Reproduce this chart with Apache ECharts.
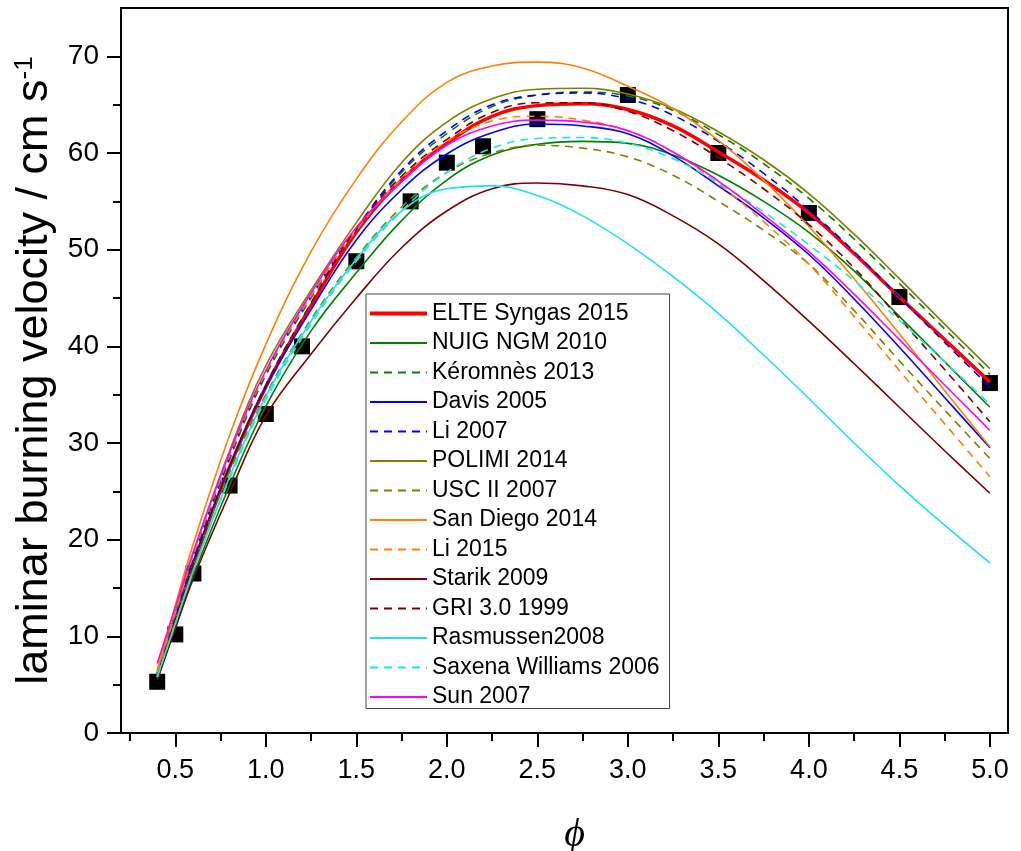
<!DOCTYPE html>
<html>
<head>
    <meta charset="UTF-8">
    <title>laminar burning velocity</title>
    <script src="https://cdn.jsdelivr.net/npm/echarts@6/dist/echarts.min.js"></script>
    <style>
        body, html {
            margin: 0;
            padding: 0;
            background: #fff;
        }
        #main {
            width: 1021px;
            height: 851px;
        }
    </style>
</head>
<body>
<div id="main"></div>
<script>
    // equivalence ratio grid of the model curves
    var phi = [0.4, 0.5, 0.6, 0.8, 1.0, 1.25, 1.5, 1.75, 2.0, 2.25, 2.5, 2.75, 3.0, 3.25, 3.5, 3.75, 4.0, 4.25, 4.5, 4.75, 5.0];

    var elte      = [5.7, 11.6, 17.4, 27.5, 35.8, 44.2, 51.8, 57.2, 61.0, 63.8, 64.9, 65.1, 64.5, 62.8, 60.1, 57.2, 53.8, 49.6, 45.1, 40.7, 36.3];
    var nuig      = [5.5, 10.9, 16.3, 25.6, 33.8, 41.6, 47.6, 53.0, 57.2, 59.8, 60.9, 61.2, 61.0, 59.8, 57.7, 55.0, 51.8, 47.8, 43.1, 38.4, 33.7];
    var keromnes  = [6.0, 12.0, 18.0, 28.3, 37.0, 45.0, 52.0, 58.0, 62.0, 64.8, 66.0, 66.3, 65.9, 64.4, 61.9, 58.9, 55.3, 51.1, 46.5, 41.8, 37.1];
    var davis     = [6.2, 12.1, 17.8, 27.6, 35.8, 43.8, 51.0, 56.2, 59.9, 62.1, 63.0, 62.8, 62.0, 59.7, 56.6, 53.3, 49.5, 44.9, 39.9, 34.7, 29.5];
    var li2007    = [6.1, 12.2, 18.2, 28.6, 37.3, 45.2, 52.2, 58.2, 62.3, 65.0, 66.0, 66.2, 65.6, 63.9, 61.2, 57.9, 54.1, 49.8, 45.1, 40.4, 35.8];
    var polimi    = [6.3, 12.5, 18.6, 29.2, 38.0, 45.8, 52.8, 59.0, 63.2, 65.6, 66.6, 66.7, 66.1, 64.6, 62.2, 59.3, 55.8, 51.6, 47.0, 42.3, 37.7];
    var uscii     = [6.0, 11.8, 17.5, 27.0, 35.0, 42.8, 49.2, 54.4, 58.0, 60.0, 60.8, 60.5, 59.6, 57.7, 55.0, 52.0, 48.5, 43.7, 38.5, 33.4, 28.4];
    var sandiego  = [6.5, 13.2, 19.6, 30.8, 40.2, 49.8, 57.3, 63.2, 67.3, 69.0, 69.4, 68.8, 66.9, 64.6, 61.3, 57.2, 52.4, 47.0, 41.3, 35.4, 29.6];
    var li2015    = [6.3, 12.4, 18.4, 28.7, 37.3, 45.2, 52.0, 57.3, 61.2, 63.3, 63.8, 63.4, 62.3, 60.1, 56.8, 52.9, 48.5, 43.1, 37.5, 32.0, 26.5];
    var starik    = [5.5, 10.8, 16.0, 24.8, 32.8, 39.2, 45.0, 50.2, 54.0, 56.3, 56.9, 56.6, 55.7, 53.5, 50.6, 46.8, 42.6, 38.2, 33.7, 29.2, 24.8];
    var gri       = [5.8, 11.7, 17.5, 27.6, 36.0, 44.5, 52.2, 57.6, 61.4, 64.2, 65.2, 65.2, 64.3, 62.3, 59.5, 56.3, 52.6, 48.1, 42.9, 37.6, 32.2];
    var rasmussen = [5.8, 11.3, 16.8, 26.5, 34.8, 42.6, 49.0, 54.0, 56.3, 56.6, 55.6, 53.5, 50.6, 47.2, 43.4, 39.1, 34.6, 30.0, 25.6, 21.5, 17.6];
    var saxena    = [5.8, 11.3, 16.8, 26.3, 34.5, 42.3, 48.8, 54.0, 58.0, 60.5, 61.5, 61.6, 61.0, 59.4, 56.9, 53.9, 50.5, 46.8, 42.7, 38.4, 34.0];
    var sun       = [7.2, 13.0, 18.8, 29.0, 37.5, 45.5, 52.3, 57.0, 60.8, 62.8, 63.4, 63.2, 62.3, 60.1, 57.1, 53.6, 49.8, 45.4, 40.7, 36.0, 31.3];

    // measurements (black squares)
    var expPhi = [0.4, 0.5, 0.6, 0.8, 1.0, 1.2, 1.5, 1.8, 2.0, 2.2, 2.5, 3.0, 3.5, 4.0, 4.5, 5.0];
    var expSl  = [5.3, 10.2, 16.5, 25.6, 33.0, 40.0, 48.8, 55.0, 59.0, 60.7, 63.5, 66.0, 60.0, 53.8, 45.1, 36.2];

    // axis ticks
    var xMajor = [0.5, 1.0, 1.5, 2.0, 2.5, 3.0, 3.5, 4.0, 4.5, 5.0];
    var xMinor = [0.25, 0.75, 1.25, 1.75, 2.25, 2.75, 3.25, 3.75, 4.25, 4.75];
    var yMajor = [0, 10, 20, 30, 40, 50, 60, 70];
    var yMinor = [5, 15, 25, 35, 45, 55, 65];

    var models = [
        ['ELTE Syngas 2015', elte, '#ff0000', 'solid', 3.5],
        ['NUIG NGM 2010', nuig, '#008000', 'solid', 1.6],
        ['Kéromnès 2013', keromnes, '#008000', 'dashed', 1.6],
        ['Davis 2005', davis, '#0000ff', 'solid', 1.6],
        ['Li 2007', li2007, '#0000ff', 'dashed', 1.6],
        ['POLIMI 2014', polimi, '#808000', 'solid', 1.6],
        ['USC II 2007', uscii, '#808000', 'dashed', 1.6],
        ['San Diego 2014', sandiego, '#ff8000', 'solid', 1.6],
        ['Li 2015', li2015, '#ff8000', 'dashed', 1.6],
        ['Starik 2009', starik, '#800000', 'solid', 1.6],
        ['GRI 3.0 1999', gri, '#800000', 'dashed', 1.6],
        ['Rasmussen2008', rasmussen, '#18e6e6', 'solid', 1.6],
        ['Saxena Williams 2006', saxena, '#18e6e6', 'dashed', 1.6],
        ['Sun 2007', sun, '#ff00ff', 'solid', 1.6]
    ];

    function zip(xs, ys) {
        return xs.map(function (x, i) { return [x, ys[i]]; });
    }

    var series = [{
        name: 'exp',
        type: 'scatter',
        symbol: 'rect',
        symbolSize: 16,
        itemStyle: {color: '#000', opacity: 1},
        data: zip(expPhi, expSl),
        z: 1
    }];
    models.forEach(function (m) {
        series.push({
            name: m[0],
            type: 'line',
            smooth: 0.4,
            symbol: 'none',
            lineStyle: {color: m[2], width: m[4], type: m[3] === 'dashed' ? [8, 6] : 'solid'},
            itemStyle: {color: m[2]},
            data: zip(phi, m[1]),
            z: 2
        });
    });

    var font = 'Liberation Sans, Arial, sans-serif';
    var chart = echarts.init(document.getElementById('main'));
    chart.setOption({
        backgroundColor: '#fff',
        animation: false,
        grid: {left: 121, right: 13, top: 8, bottom: 118, outerBoundsMode: 'none',
            show: true, borderColor: '#000', borderWidth: 2},
        legend: {
            orient: 'vertical',
            left: 366,
            top: 294,
            // legend keeps the same line width as each curve
            data: models.map(function (m) {
                return {name: m[0], lineStyle: {width: m[4] > 2 ? 4 : 1.8}};
            }),
            itemWidth: 57,
            itemHeight: 10,
            itemGap: 6.5,
            padding: [8, 10, 0, 2],
            borderColor: '#444',
            borderWidth: 1,
            itemStyle: {opacity: 0},
            textStyle: {fontFamily: font, fontSize: 23, color: '#000', lineHeight: 22}
        },
        xAxis: [{
            type: 'value',
            min: 0.2,
            max: 5.1,
            name: 'ϕ',
            nameLocation: 'middle',
            nameGap: 82,
            nameTextStyle: {fontFamily: 'Liberation Serif, serif', fontStyle: 'italic', fontSize: 40, color: '#000', padding: [0, 0, 0, 20]},
            axisLine: {show: true, lineStyle: {color: '#000', width: 2}},
            axisTick: {show: true, inside: false, length: 14, lineStyle: {width: 2}, customValues: xMajor},
            axisLabel: {fontFamily: font, fontSize: 27, color: '#000', margin: 24, customValues: xMajor,
                formatter: function (v) { return v.toFixed(1); }},
            splitLine: {show: false}
        }, {
            type: 'value',
            min: 0.2,
            max: 5.1,
            position: 'bottom',
            axisLine: {show: false},
            axisTick: {show: true, inside: false, length: 8, lineStyle: {width: 2, color: '#000'}, customValues: xMinor},
            axisLabel: {show: false},
            splitLine: {show: false}
        }],
        yAxis: [{
            type: 'value',
            min: 0,
            max: 75,
            name: '{a|laminar burning velocity / cm s}{b|-1}',
            nameLocation: 'middle',
            nameGap: 61,
            nameRotate: 90,
            nameTextStyle: {
                rich: {
                    a: {fontFamily: font, fontSize: 45, color: '#000'},
                    b: {fontFamily: font, fontSize: 26, color: '#000', verticalAlign: 'top', padding: [0, 0, 18, 0]}
                }
            },
            axisLine: {show: true, lineStyle: {color: '#000', width: 2}},
            axisTick: {show: true, inside: false, length: 14, lineStyle: {width: 2}, customValues: yMajor},
            axisLabel: {fontFamily: font, fontSize: 28, color: '#000', margin: 22, customValues: yMajor},
            splitLine: {show: false}
        }, {
            type: 'value',
            min: 0,
            max: 75,
            position: 'left',
            axisLine: {show: false},
            axisTick: {show: true, inside: false, length: 8, lineStyle: {width: 2, color: '#000'}, customValues: yMinor},
            axisLabel: {show: false},
            splitLine: {show: false}
        }],
        series: series
    });
</script>
</body>
</html>
